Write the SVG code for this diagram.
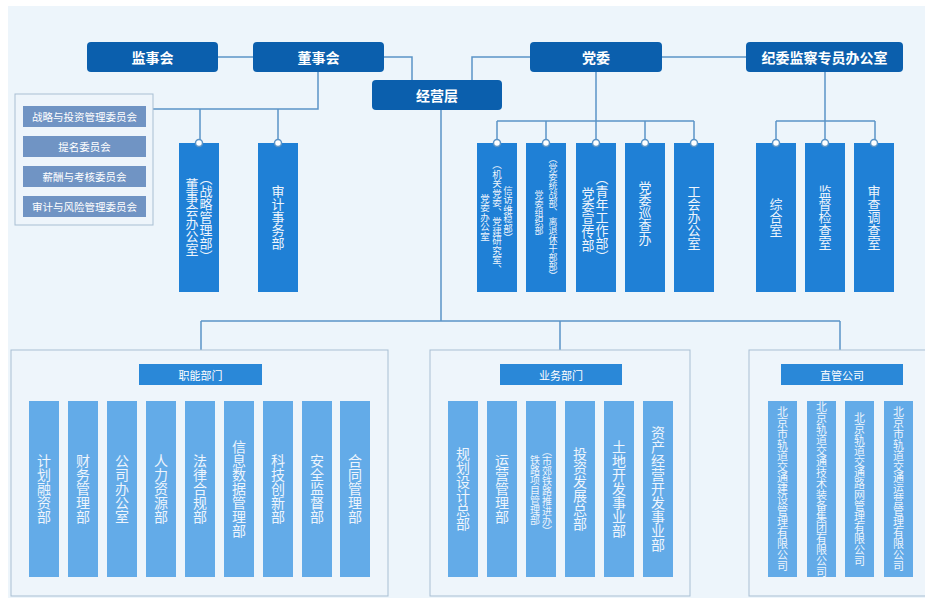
<svg xmlns="http://www.w3.org/2000/svg" width="925" height="605" viewBox="0 0 925 605">
<style>
.top{fill:#0b5fad}
.tt{font-family:"Noto Sans CJK SC",sans-serif;font-size:14px;font-weight:bold;fill:#ffffff;text-anchor:middle;dominant-baseline:central}
.cm{fill:#7094c4}
.ct{font-family:"Noto Sans CJK SC",sans-serif;font-size:10.5px;fill:#ffffff;text-anchor:middle;dominant-baseline:central}
.uc{fill:#1f80d6}
.vt{font-family:"Noto Sans CJK SC",sans-serif;fill:#eef5fd;text-anchor:middle;writing-mode:vertical-rl}
.bc{fill:#63abe8}
.hd{fill:#2a88d8}
.ht{font-family:"Noto Sans CJK SC",sans-serif;font-size:11px;fill:#ffffff;text-anchor:middle;dominant-baseline:central}
.grp{fill:#eef5fb;stroke:#a9bfd3;stroke-width:1}
.ln{fill:none;stroke:#5b94c7;stroke-width:1.5}
.dot{fill:#ffffff;stroke:#5b94c7;stroke-width:1.5}
</style>
<rect x="0" y="0" width="925" height="605" fill="#ffffff"/>
<rect x="8" y="6" width="917" height="592" fill="#edf5fb"/>

<g id="connectors">
<path class="ln" d="M218 57H253"/>
<path class="ln" d="M384 57H412V80"/>
<path class="ln" d="M530 57H472V80"/>
<path class="ln" d="M662 57H746"/>
<path class="ln" d="M318 72V109H153"/>
<path class="ln" d="M200 109V140M278 109V140"/>
<path class="ln" d="M596 72V121M497 121H694M497 121V140M546 121V140M596 121V140M645 121V140M694 121V140"/>
<path class="ln" d="M825 72V121M776 121H875M776 121V140M825 121V140M875 121V140"/>
<path class="ln" d="M441 110V321M201 321H840M201 321V350M560 321V350M840 321V350"/>
</g>

<g id="jianshihui"><rect class="top" x="87" y="42" width="131" height="30" rx="4"/><text class="tt" x="152.5" y="57">监事会</text></g>
<g id="dongshihui"><rect class="top" x="253" y="42" width="131" height="30" rx="4"/><text class="tt" x="318.5" y="57">董事会</text></g>
<g id="jingyingceng"><rect class="top" x="372" y="80" width="130" height="30" rx="4"/><text class="tt" x="437" y="95">经营层</text></g>
<g id="dangwei"><rect class="top" x="530" y="42" width="132" height="30" rx="4"/><text class="tt" x="596" y="57">党委</text></g>
<g id="jiwei"><rect class="top" x="746" y="42" width="157" height="30" rx="4"/><text class="tt" x="824.5" y="57">纪委监察专员办公室</text></g>

<g id="committees">
<rect class="grp" x="15" y="94" width="138" height="131"/>
<rect class="cm" x="23" y="106" width="123" height="21"/><text class="ct" x="84.5" y="116.5">战略与投资管理委员会</text>
<rect class="cm" x="23" y="136" width="123" height="21"/><text class="ct" x="84.5" y="146.5">提名委员会</text>
<rect class="cm" x="23" y="166" width="123" height="21"/><text class="ct" x="84.5" y="176.5">薪酬与考核委员会</text>
<rect class="cm" x="23" y="196" width="123" height="21"/><text class="ct" x="84.5" y="206.5">审计与风险管理委员会</text>
</g>

<g id="dongban"><rect class="uc" x="179" y="143" width="40" height="149"/><circle class="dot" cx="199" cy="143" r="3.5"/>
<text class="vt" font-size="13" x="206" y="217">（战略管理部）</text><text class="vt" font-size="13" x="192" y="217">董事会办公室</text></g>
<g id="shenji"><rect class="uc" x="258" y="143" width="40" height="149"/><circle class="dot" cx="278" cy="143" r="3.5"/>
<text class="vt" font-size="13" x="278" y="217">审计事务部</text></g>

<g id="dangban"><rect class="uc" x="477" y="143" width="40" height="149"/><circle class="dot" cx="497" cy="143" r="3.5"/>
<text class="vt" font-size="9.5" x="508" y="214">信访维稳部）</text>
<text class="vt" font-size="9.5" x="497" y="217">（机关党委、党建研究室、</text>
<text class="vt" font-size="9.5" x="485" y="217">党委办公室</text></g>
<g id="zuzhi"><rect class="uc" x="526" y="143" width="40" height="149"/><circle class="dot" cx="546" cy="143" r="3.5"/>
<text class="vt" font-size="9" x="553" y="217">（党委统战部、离退休干部部）</text>
<text class="vt" font-size="9" x="539" y="213">党委组织部</text></g>
<g id="xuanchuan"><rect class="uc" x="576" y="143" width="40" height="149"/><circle class="dot" cx="596" cy="143" r="3.5"/>
<text class="vt" font-size="13" x="602" y="217">（青年工作部）</text><text class="vt" font-size="13" x="588" y="219">党委宣传部</text></g>
<g id="xuncha"><rect class="uc" x="625" y="143" width="40" height="149"/><circle class="dot" cx="645" cy="143" r="3.5"/>
<text class="vt" font-size="13" x="645" y="213">党委巡查办</text></g>
<g id="gonghui"><rect class="uc" x="674" y="143" width="40" height="149"/><circle class="dot" cx="694" cy="143" r="3.5"/>
<text class="vt" font-size="13" x="694" y="217">工会办公室</text></g>

<g id="zonghe"><rect class="uc" x="756" y="143" width="40" height="149"/><circle class="dot" cx="776" cy="143" r="3.5"/>
<text class="vt" font-size="13" x="776" y="217">综合室</text></g>
<g id="jiandu"><rect class="uc" x="805" y="143" width="40" height="149"/><circle class="dot" cx="825" cy="143" r="3.5"/>
<text class="vt" font-size="13" x="825" y="217">监督检查室</text></g>
<g id="shencha"><rect class="uc" x="854" y="143" width="40" height="149"/><circle class="dot" cx="874" cy="143" r="3.5"/>
<text class="vt" font-size="13" x="874" y="217">审查调查室</text></g>

<g id="zhineng">
<rect class="grp" x="11" y="350" width="377" height="246"/>
<rect class="hd" x="139" y="364" width="123" height="21"/><text class="ht" x="200.5" y="374.5">职能部门</text>
<rect class="bc" x="29" y="401" width="30" height="176"/><text class="vt" font-size="14" x="44" y="489">计划融资部</text>
<rect class="bc" x="68" y="401" width="30" height="176"/><text class="vt" font-size="14" x="83" y="489">财务管理部</text>
<rect class="bc" x="107" y="401" width="30" height="176"/><text class="vt" font-size="14" x="122" y="489">公司办公室</text>
<rect class="bc" x="146" y="401" width="30" height="176"/><text class="vt" font-size="14" x="161" y="489">人力资源部</text>
<rect class="bc" x="185" y="401" width="30" height="176"/><text class="vt" font-size="14" x="200" y="489">法律合规部</text>
<rect class="bc" x="224" y="401" width="30" height="176"/><text class="vt" font-size="14" x="239" y="489">信息数据管理部</text>
<rect class="bc" x="263" y="401" width="30" height="176"/><text class="vt" font-size="14" x="278" y="489">科技创新部</text>
<rect class="bc" x="302" y="401" width="30" height="176"/><text class="vt" font-size="14" x="317" y="489">安全监督部</text>
<rect class="bc" x="340" y="401" width="30" height="176"/><text class="vt" font-size="14" x="355" y="489">合同管理部</text>
</g>

<g id="yewu">
<rect class="grp" x="430" y="350" width="260" height="246"/>
<rect class="hd" x="500" y="364" width="122" height="21"/><text class="ht" x="561" y="374.5">业务部门</text>
<rect class="bc" x="448" y="401" width="30" height="176"/><text class="vt" font-size="14" x="463" y="489">规划设计总部</text>
<rect class="bc" x="487" y="401" width="30" height="176"/><text class="vt" font-size="14" x="502" y="489">运营管理部</text>
<rect class="bc" x="526" y="401" width="30" height="176"/><text class="vt" font-size="10" x="547" y="491">（市郊铁路推进办）</text><text class="vt" font-size="10" x="535" y="490">铁路项目管理部</text>
<rect class="bc" x="565" y="401" width="30" height="176"/><text class="vt" font-size="14" x="580" y="489">投资发展总部</text>
<rect class="bc" x="604" y="401" width="30" height="176"/><text class="vt" font-size="14" x="619" y="489">土地开发事业部</text>
<rect class="bc" x="643" y="401" width="30" height="176"/><text class="vt" font-size="14" x="658" y="489">资产经营开发事业部</text>
</g>

<g id="zhiguan">
<rect class="grp" x="749" y="350" width="190" height="246"/>
<rect class="hd" x="781" y="364" width="122" height="21"/><text class="ht" x="842" y="374.5">直管公司</text>
<rect class="bc" x="768" y="401" width="29" height="176"/><text class="vt" font-size="11" x="782.5" y="489">北京市轨道交通建设管理有限公司</text>
<rect class="bc" x="807" y="401" width="29" height="176"/><text class="vt" font-size="11" x="821.5" y="489">北京轨道交通技术装备集团有限公司</text>
<rect class="bc" x="845" y="401" width="29" height="176"/><text class="vt" font-size="11" x="859.5" y="489">北京轨道交通路网管理有限公司</text>
<rect class="bc" x="884" y="401" width="29" height="176"/><text class="vt" font-size="11" x="898.5" y="489">北京市轨道交通运营管理有限公司</text>
</g>
</svg>
